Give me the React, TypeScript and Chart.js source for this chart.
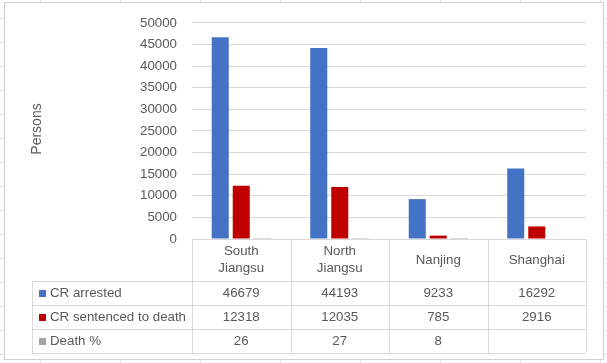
import React, { useEffect, useRef } from "react";
import { Chart, registerables } from "chart.js";

Chart.register(...registerables);

const categories: string[][] = [["South", "Jiangsu"], ["North", "Jiangsu"], ["Nanjing"], ["Shanghai"]];
const seriesNames = ["CR arrested", "CR sentenced to death", "Death %"];
const arrested = [46679, 44193, 9233, 16292];
const sentenced = [12318, 12035, 785, 2916];
const deathPct: (number | null)[] = [26, 27, 8, null];
const seriesColors = ["#4472C4", "#C00000", "#A5A5A5"];
const yTicksMax = 50000;
const yTicksStep = 5000;
const yTitle = "Persons";

const FONT = "'Liberation Sans', Arial, sans-serif";
const TEXT = "#595959";
const LINE = "#d9d9d9";

const tablePlugin = {
  id: "excelTable",
  beforeDraw(chart: any) {
    const ctx = chart.ctx as CanvasRenderingContext2D;
    const W = chart.width, H = chart.height;
    ctx.save();
    ctx.fillStyle = "#ffffff";
    ctx.fillRect(0, 0, W, H);
    ctx.strokeStyle = "#e2e2e2";
    ctx.lineWidth = 1;
    ctx.beginPath();
    for (let x = 40; x < W; x += 80) { ctx.moveTo(x + 0.5, 0); ctx.lineTo(x + 0.5, H); }
    for (let y = 18; y < H; y += 24) { ctx.moveTo(0, y + 0.5); ctx.lineTo(W, y + 0.5); }
    ctx.stroke();
    ctx.fillStyle = "#ffffff";
    ctx.fillRect(4, 2, 599, 357);
    ctx.strokeStyle = "#d0d0d0";
    ctx.strokeRect(4.5, 2.5, 599, 357);
    ctx.fillStyle = TEXT;
    ctx.font = `14px ${FONT}`;
    ctx.textAlign = "center";
    ctx.textBaseline = "middle";
    ctx.translate(37, 129);
    ctx.rotate(-Math.PI / 2);
    ctx.fillText(yTitle, 0, 0);
    ctx.restore();
  },
  afterDraw(chart: any) {
    const ctx = chart.ctx as CanvasRenderingContext2D;
    const area = chart.chartArea;
    const xScale = chart.scales.x;
    const left = Math.round(area.left), right = Math.round(area.right);
    const top = Math.round(area.bottom);
    const headerBottom = top + 42;
    const rowH = 24;
    const tableLeft = 32;
    const nRows = 3;
    const bottom = headerBottom + rowH * nRows;
    const n = categories.length;
    const cw = (right - left) / n;
    ctx.save();
    ctx.strokeStyle = LINE;
    ctx.lineWidth = 1;
    ctx.beginPath();
    ctx.moveTo(left, top + 0.5); ctx.lineTo(right, top + 0.5);
    for (let r = 0; r <= nRows; r++) {
      const y = headerBottom + r * rowH + 0.5;
      ctx.moveTo(tableLeft, y); ctx.lineTo(right, y);
    }
    ctx.moveTo(tableLeft + 0.5, headerBottom); ctx.lineTo(tableLeft + 0.5, bottom);
    for (let i = 0; i <= n; i++) {
      const x = Math.round(left + i * cw) + 0.5;
      ctx.moveTo(x, top); ctx.lineTo(x, bottom);
    }
    ctx.stroke();

    ctx.fillStyle = TEXT;
    ctx.font = `13.3px ${FONT}`;
    ctx.textAlign = "center";
    ctx.textBaseline = "middle";
    for (let i = 0; i < n; i++) {
      const cx = xScale.getPixelForValue(i);
      const lines = categories[i];
      const lh = 17;
      const cy = (top + headerBottom) / 2;
      lines.forEach((t, k) => {
        ctx.fillText(t, cx, cy + (k - (lines.length - 1) / 2) * lh);
      });
    }
    const rows = [arrested, sentenced, deathPct];
    rows.forEach((vals, r) => {
      const cy = headerBottom + r * rowH + rowH / 2 + 0.5;
      ctx.fillStyle = seriesColors[r];
      ctx.fillRect(39, Math.round(cy) - 4, 7, 7);
      ctx.fillStyle = TEXT;
      ctx.textAlign = "left";
      ctx.fillText(seriesNames[r], 50, cy);
      ctx.textAlign = "center";
      vals.forEach((v, i) => {
        if (v === null || v === undefined) return;
        ctx.fillText(String(v), xScale.getPixelForValue(i), cy);
      });
    });
    ctx.restore();
  },
};

export default function App() {
  const ref = useRef<HTMLCanvasElement | null>(null);
  useEffect(() => {
    const canvas = ref.current;
    if (!canvas) return;
    const chart = new Chart(canvas, {
      type: "bar",
      data: {
        labels: categories.map((c) => c.join(" ")),
        datasets: [
          { label: seriesNames[0], data: arrested, backgroundColor: seriesColors[0] },
          { label: seriesNames[1], data: sentenced, backgroundColor: seriesColors[1] },
          { label: seriesNames[2], data: deathPct, backgroundColor: seriesColors[2] },
        ],
      },
      options: {
        responsive: false,
        animation: false,
        devicePixelRatio: 1,
        layout: { padding: { left: 100, right: 21, top: 19, bottom: 124 } },
        datasets: { bar: { barPercentage: 0.81, categoryPercentage: 0.64 } },
        plugins: { legend: { display: false }, tooltip: { enabled: false }, title: { display: false } },
        scales: {
          x: { display: false, offset: true },
          y: {
            min: 0,
            max: yTicksMax,
            afterFit: (s: any) => { s.width = 92; },
            ticks: {
              stepSize: yTicksStep,
              padding: 15,
              color: TEXT,
              font: { family: FONT, size: 13.3 },
              callback: (v: any) => String(v),
            },
            grid: { color: LINE, drawTicks: false },
            border: { display: false },
          },
        },
      },
      plugins: [tablePlugin],
    } as any);
    return () => chart.destroy();
  }, []);
  return (
    <div style={{ position: "fixed", left: 0, top: 0, width: 607, height: 363 }}>
      <canvas ref={ref} width={607} height={363} style={{ display: "block", width: 607, height: 363 }} />
    </div>
  );
}
